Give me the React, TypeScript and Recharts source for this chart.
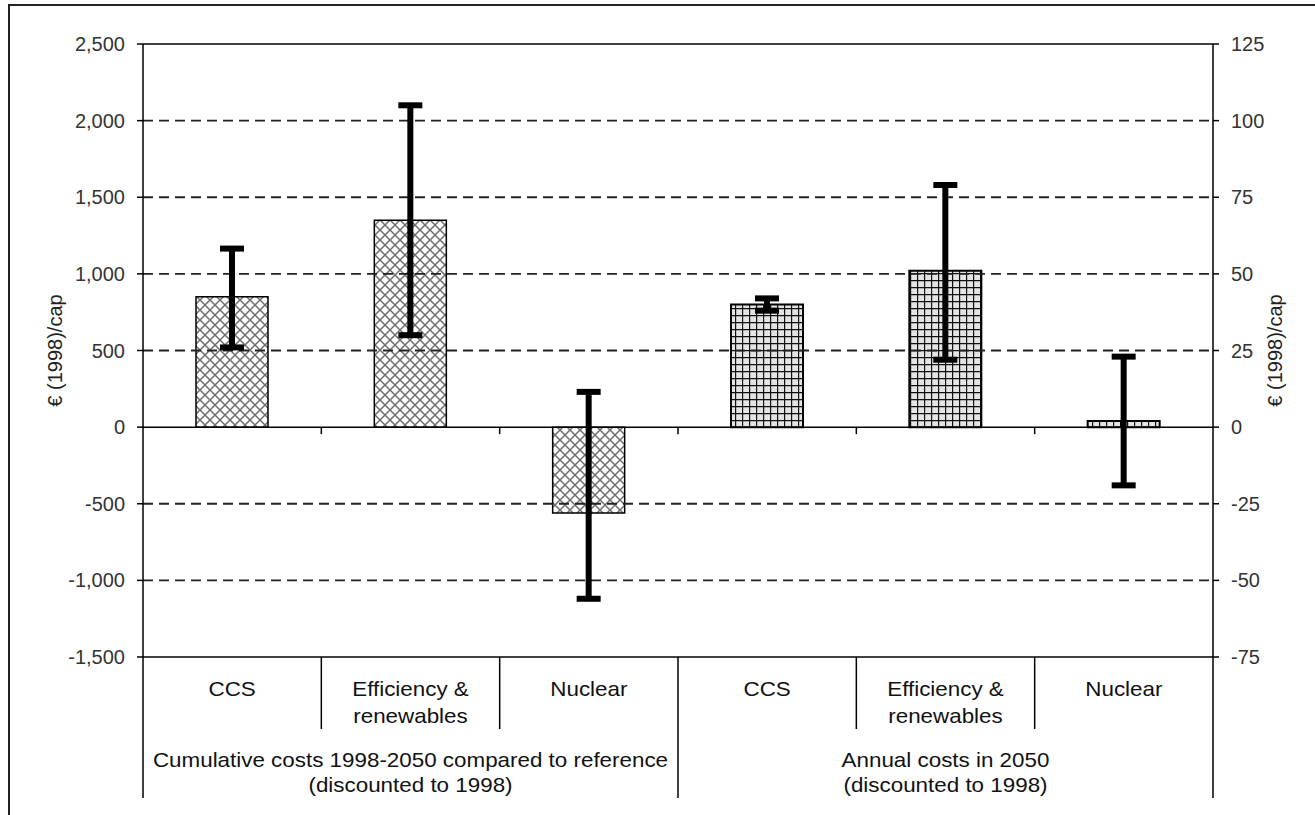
import React from 'react';
import { ComposedChart, Bar, XAxis, YAxis, ErrorBar, ReferenceLine } from 'recharts';

// ---- data ----
const categoryLabels = ['CCS', 'Efficiency &\nrenewables', 'Nuclear', 'CCS', 'Efficiency &\nrenewables', 'Nuclear'];
const groupTitles = [
  ['Cumulative costs 1998-2050 compared to reference', '(discounted to 1998)'],
  ['Annual costs in 2050', '(discounted to 1998)'],
];
// cumulative costs (left axis, € (1998)/cap)
const cumulativeValues = [850, 1350, -560, null, null, null];
const cumulativeErrors = [[330, 315], [750, 750], [560, 790], null, null, null];
// annual costs in 2050 (right axis, € (1998)/cap)
const annualValues = [null, null, null, 40, 51, 2];
const annualErrors = [null, null, null, [2, 2], [29, 28], [21, 21]];
const leftTicks = [-1500, -1000, -500, 0, 500, 1000, 1500, 2000, 2500];
const rightTicks = [-75, -50, -25, 0, 25, 50, 75, 100, 125];
const dashedGridValues = [-1000, -500, 500, 1000, 1500, 2000];
const axisTitle = '€ (1998)/cap';

const data = categoryLabels.map((label, i) => ({
  key: 'c' + i,
  label,
  cum: cumulativeValues[i],
  cumErr: cumulativeErrors[i],
  ann: annualValues[i],
  annErr: annualErrors[i],
}));

const FONT = '"Liberation Sans", Arial, sans-serif';
const SX = 1.12;

function CategoryTick(props: any) {
  const { x, y, index, width, visibleTicksCount } = props;
  const n = visibleTicksCount || categoryLabels.length;
  const bw = width ? width / n : 178.3;
  const lines = String(categoryLabels[index] ?? '').split('\n');
  const groupSize = 3;
  const isGroupStart = index % groupSize === 0;
  const isLast = index === n - 1;
  const isGroupMid = index % groupSize === 1;
  const g = Math.floor(index / groupSize);
  const txt = (s: string, yy: number, k: string) => (
    <text
      key={k}
      transform={`translate(${x} ${yy}) scale(${SX} 1)`}
      textAnchor="middle"
      dominantBaseline="central"
      fontFamily={FONT}
      fontSize={20}
      fill="#111"
    >
      {s}
    </text>
  );
  return (
    <g>
      <line x1={x - bw / 2} x2={x - bw / 2} y1={y} y2={y + (isGroupStart ? 141 : 72)} stroke="#000" strokeWidth={1.5} />
      {isLast && <line x1={x + bw / 2} x2={x + bw / 2} y1={y} y2={y + 141} stroke="#000" strokeWidth={1.5} />}
      {lines.map((s, i) => txt(s, y + 32 + i * 27, 'l' + i))}
      {isGroupMid && groupTitles[g] && groupTitles[g].map((s, i) => txt(s, y + 103 + i * 25, 'g' + i))}
    </g>
  );
}

const ZeroLine = (props: any) => {
  const { x1, x2, y1 } = props;
  const n = categoryLabels.length;
  const step = (x2 - x1) / n;
  const ticks = [];
  for (let k = 1; k < n; k++) ticks.push(k);
  return (
    <g>
      <line x1={x1} x2={x2} y1={y1} y2={y1} stroke="#000" strokeWidth={1.5} />
      {ticks.map((k) => (
        <line key={k} x1={x1 + k * step} x2={x1 + k * step} y1={y1} y2={y1 + 7} stroke="#000" strokeWidth={1.5} />
      ))}
    </g>
  );
};

const makeTitle = (dx: number) => (props: any) => {
  const vb = props.viewBox || {};
  const cx = (vb.x ?? 0) + dx;
  const cy = (vb.y ?? 44) + (vb.height ?? 613) / 2;
  return (
    <text
      x={cx}
      y={cy}
      transform={`rotate(-90 ${cx} ${cy})`}
      textAnchor="middle"
      dominantBaseline="central"
      fontFamily={FONT}
      fontSize={20}
      fill="#222"
    >
      {axisTitle}
    </text>
  );
};

const fmt = (v: number) => v.toLocaleString('en-US');

export default function App() {
  return (
    <div style={{ position: 'absolute', left: 0, top: 0, width: 1315, height: 815, overflow: 'hidden', background: '#fff' }}>
      <div
        style={{
          position: 'absolute',
          left: 8,
          top: 4,
          width: 1320,
          height: 900,
          border: '2px solid #222',
          boxSizing: 'border-box',
        }}
      />
      <div style={{ position: 'absolute', left: 0, top: 0 }}>
        <ComposedChart width={1315} height={815} data={data} margin={{ top: 44, right: 0, bottom: 0, left: 0 }}>
          <defs>
            <pattern id="hatchA" patternUnits="userSpaceOnUse" width={10} height={10}>
              <rect x={0} y={0} width={10} height={10} fill="#fff" />
              <path d="M0,0 L10,10 M10,0 L0,10" stroke="#6e6e6e" strokeWidth={1.5} />
            </pattern>
            <pattern id="gridB" patternUnits="userSpaceOnUse" width={7} height={7}>
              <rect x={0} y={0} width={7} height={7} fill="#e4e4e4" />
              <path d="M0,0.6 H7 M0.6,0 V7" stroke="#111" strokeWidth={1.2} />
            </pattern>
          </defs>
          {dashedGridValues.map((v) => (
            <ReferenceLine
              key={v}
              xAxisId="a"
              yAxisId="left"
              y={v}
              stroke="#222"
              strokeWidth={1.8}
              strokeDasharray="10 6"
            />
          ))}
          <XAxis
            xAxisId="a"
            dataKey="key"
            height={158}
            interval={0}
            tickLine={false}
            tickSize={0}
            tickMargin={0}
            axisLine={{ stroke: '#000', strokeWidth: 1.5 }}
            tick={<CategoryTick />}
          />
          <XAxis xAxisId="b" dataKey="key" hide />
          <YAxis
            yAxisId="left"
            width={143}
            domain={[-1500, 2500]}
            ticks={leftTicks}
            interval={0}
            tickFormatter={fmt}
            axisLine={{ stroke: '#000', strokeWidth: 1.5 }}
            tickLine={{ stroke: '#000', strokeWidth: 1.5 }}
            tickSize={6}
            tickMargin={12}
            tick={{ fill: '#333', fontSize: 20, fontFamily: FONT }}
            label={makeTitle(55)}
          />
          <YAxis
            yAxisId="right"
            orientation="right"
            width={102}
            domain={[-75, 125]}
            ticks={rightTicks}
            interval={0}
            axisLine={{ stroke: '#000', strokeWidth: 1.5 }}
            tickLine={{ stroke: '#000', strokeWidth: 1.5 }}
            tickSize={6}
            tickMargin={12}
            tick={{ fill: '#333', fontSize: 20, fontFamily: FONT }}
            label={makeTitle(62)}
          />
          <ReferenceLine xAxisId="a" yAxisId="left" y={2500} stroke="#000" strokeWidth={1.5} />
          <Bar
            xAxisId="a"
            yAxisId="left"
            dataKey="cum"
            barSize={72}
            fill="url(#hatchA)"
            stroke="#000"
            strokeWidth={1.5}
            isAnimationActive={false}
          >
            <ErrorBar dataKey="cumErr" direction="y" width={12} stroke="#000" strokeWidth={6} isAnimationActive={false} />
          </Bar>
          <Bar
            xAxisId="b"
            yAxisId="right"
            dataKey="ann"
            barSize={72}
            fill="url(#gridB)"
            stroke="#000"
            strokeWidth={2}
            isAnimationActive={false}
          >
            <ErrorBar dataKey="annErr" direction="y" width={12} stroke="#000" strokeWidth={6} isAnimationActive={false} />
          </Bar>
          <ReferenceLine xAxisId="a" yAxisId="left" y={0} shape={ZeroLine} />
        </ComposedChart>
      </div>
    </div>
  );
}
